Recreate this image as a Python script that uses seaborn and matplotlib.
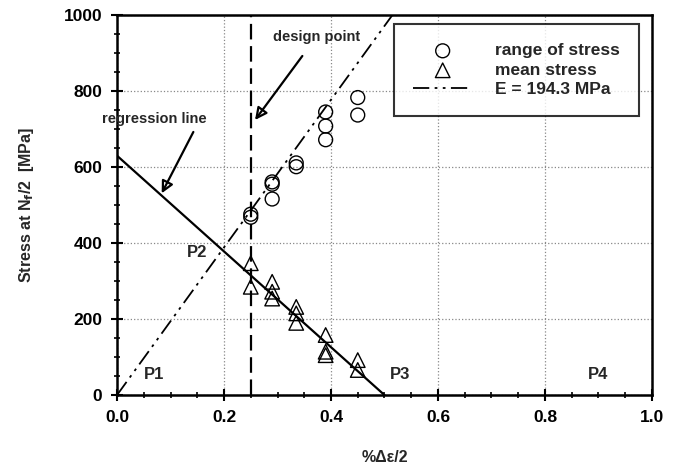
import numpy as np
import pandas as pd
import matplotlib
matplotlib.use('Agg')
import matplotlib.pyplot as plt
from matplotlib.ticker import MultipleLocator, FormatStrFormatter
import seaborn as sns

# range of stress (circles)
range_strain = [0.25, 0.25, 0.29, 0.29, 0.29, 0.335, 0.335, 0.39, 0.39, 0.39, 0.45, 0.45]
range_stress = [468, 476, 561, 555, 516, 611, 601, 745, 708, 672, 783, 737]

# mean stress (triangles)
mean_strain = [0.25, 0.25, 0.29, 0.29, 0.29, 0.335, 0.335, 0.335, 0.39, 0.39, 0.39, 0.45, 0.45]
mean_stress = [347, 285, 298, 272, 254, 232, 215, 190, 158, 114, 105, 92, 66]

# lines
E_slope = 1943.0          # MPa per %  (E = 194.3 GPa)
E_x = [0.0, 0.515]
reg_x = [0.0, 0.5]
reg_y = [630, 0]
design_x = 0.25

sns.set_style("white")
plt.rcParams['font.family'] = ['Liberation Sans', 'DejaVu Sans']
plt.rcParams['font.weight'] = 'bold'

fig = plt.figure(figsize=(6.78, 4.72), dpi=100)
ax = fig.add_axes([0.1726, 0.163, 0.789, 0.805])

df_r = pd.DataFrame({'x': range_strain, 'y': range_stress})
df_m = pd.DataFrame({'x': mean_strain, 'y': mean_stress})
df_e = pd.DataFrame({'x': E_x, 'y': [E_slope * v for v in E_x]})
df_g = pd.DataFrame({'x': reg_x, 'y': reg_y})

sns.scatterplot(data=df_r, x='x', y='y', ax=ax, marker='o', s=100,
                facecolor='none', edgecolor='black', linewidth=1.0,
                label='range of stress', zorder=4)
sns.scatterplot(data=df_m, x='x', y='y', ax=ax, marker='^', s=110,
                facecolor='none', edgecolor='black', linewidth=1.0,
                label='mean stress', zorder=4)
sns.lineplot(data=df_e, x='x', y='y', ax=ax, color='black', linewidth=1.3,
             dashes=False, label='E = 194.3 MPa', zorder=3)
ax.lines[-1].set_dashes([9, 3, 1.5, 3, 1.5, 3])
sns.lineplot(data=df_g, x='x', y='y', ax=ax, color='black', linewidth=1.6,
             legend=False, zorder=3)
ax.axvline(design_x, color='black', linestyle=(0, (7, 3)), linewidth=1.6, zorder=3)

ax.xaxis.set_major_locator(MultipleLocator(0.2))
ax.xaxis.set_minor_locator(MultipleLocator(0.05))
ax.xaxis.set_major_formatter(FormatStrFormatter('%.1f'))
ax.yaxis.set_major_locator(MultipleLocator(200))
ax.yaxis.set_minor_locator(MultipleLocator(50))
ax.set_xlim(0, 1.0)
ax.set_ylim(0, 1000)
ax.grid(True, which='major', color='#888888', linestyle=':', linewidth=0.9)
ax.tick_params(which='both', bottom=True, left=True, top=False, right=False)
ax.tick_params(which='major', direction='inout', length=9, width=1.5,
               labelsize=12.5, pad=6, colors='black')
ax.tick_params(which='minor', direction='inout', length=5, width=1.2, colors='black')
for lab in ax.get_xticklabels() + ax.get_yticklabels():
    lab.set_fontweight('bold')
for s in ax.spines.values():
    s.set_color('black')
    s.set_linewidth(1.8)

ax.set_xlabel('%Δε/2', fontsize=11.5, fontweight='bold', labelpad=18)
ax.set_ylabel('Stress at N$_\\mathbf{f}$/2  [MPa]', fontsize=11.5, fontweight='bold', labelpad=20)

ax.text(0.07, 53, 'P1', fontsize=12, fontweight='bold', ha='center', va='center')
ax.text(0.15, 374, 'P2', fontsize=12, fontweight='bold', ha='center', va='center')
ax.text(0.53, 53, 'P3', fontsize=12, fontweight='bold', ha='center', va='center')
ax.text(0.90, 53, 'P4', fontsize=12, fontweight='bold', ha='center', va='center')

ax.annotate('design point', xy=(0.258, 724), xytext=(0.373, 943),
            fontsize=10.5, fontweight='bold', ha='center', va='center',
            arrowprops=dict(arrowstyle='-|>', color='black', lw=1.6,
                            mutation_scale=18, shrinkA=8, shrinkB=0, fill=False))
ax.annotate('regression line', xy=(0.0835, 531), xytext=(0.07, 726),
            fontsize=10.5, fontweight='bold', ha='center', va='center',
            arrowprops=dict(arrowstyle='-|>', color='black', lw=1.6,
                            mutation_scale=18, shrinkA=2, shrinkB=0, fill=False,
                            relpos=(0.9, 0.0)))

leg = ax.legend(loc='upper right', bbox_to_anchor=(0.985, 0.99), frameon=True,
                fancybox=False, edgecolor='black', fontsize=12.5,
                borderpad=1.1, handlelength=3.4, handletextpad=1.3,
                labelspacing=0.25, borderaxespad=0.3)
leg.get_frame().set_linewidth(1.5)
for t in leg.get_texts():
    t.set_fontweight('bold')

fig.savefig('out.png', dpi=100)
